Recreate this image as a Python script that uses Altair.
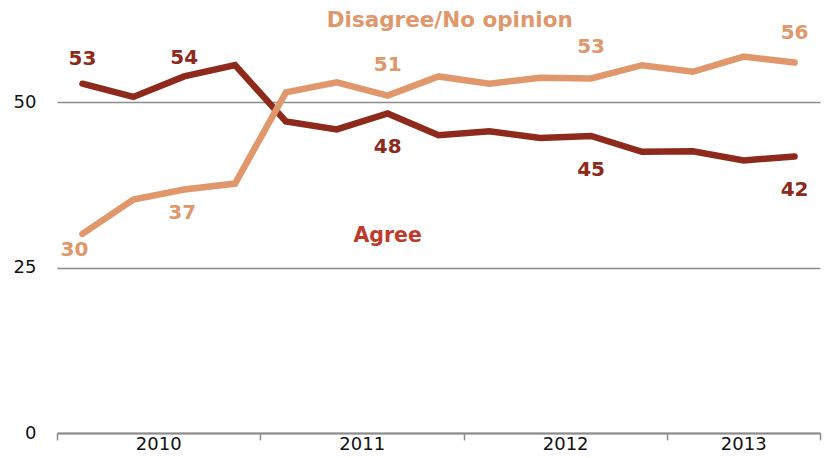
import altair as alt
import pandas as pd

# ---- data ----
periods = list(range(15))
agree = [52.8, 50.8, 53.9, 55.6, 47.1, 45.9, 48.3, 45.0, 45.6, 44.6, 44.9, 42.5, 42.6, 41.2, 41.8]
disagree = [30.1, 35.3, 36.8, 37.7, 51.5, 53.0, 51.0, 53.9, 52.8, 53.7, 53.6, 55.6, 54.6, 56.9, 56.0]

agree_label_idx = [0, 2, 6, 10, 14]
agree_label_txt = ["53", "54", "48", "45", "42"]
disagree_label_idx = [0, 2, 6, 10, 14]
disagree_label_txt = ["30", "37", "51", "53", "56"]

years = ["2010", "2011", "2012", "2013"]
year_start = [-0.5, 3.5, 7.5, 11.5]
year_end = [3.5, 7.5, 11.5, 14.5]

series_names = ["Agree", "Disagree/No opinion"]
series_label_x = [6.0, 7.22]
series_label_y = [29.8, 62.3]

# ---- styling ----
AGREE_LINE = "#8E2A1C"
AGREE_TEXT = "#8E2A1C"
AGREE_NAME = "#BC3B2C"
DIS_LINE = "#E0976B"
DIS_TEXT = "#E0976B"
GRID = "#8C8C8C"
FONT = "DejaVu Sans"
W, H = 763, 430

x_scale = alt.Scale(domain=[-0.5, 14.5], nice=False, zero=False)
y_scale = alt.Scale(domain=[0, 65], nice=False)

x_axis = alt.Axis(values=year_start + [year_end[-1]], labels=False, title=None,
                  grid=False, domain=True, domainColor=GRID, domainWidth=2,
                  ticks=True, tickColor=GRID, tickWidth=1.5, tickSize=7)
y_axis = alt.Axis(values=[0, 25, 50], title=None, domain=False, ticks=False,
                  grid=True, gridColor=GRID, gridWidth=1.5, labels=True,
                  labelFont=FONT, labelFontSize=18, labelColor="#111111",
                  labelPadding=21)

lines_df = pd.concat([
    pd.DataFrame({"period": periods, "value": agree, "series": "Agree"}),
    pd.DataFrame({"period": periods, "value": disagree, "series": "Disagree/No opinion"}),
])

lines = alt.Chart(lines_df).mark_line(strokeWidth=6.5, strokeCap="round").encode(
    x=alt.X("period:Q", scale=x_scale, axis=x_axis),
    y=alt.Y("value:Q", scale=y_scale, axis=y_axis),
    color=alt.Color("series:N", scale=alt.Scale(domain=series_names, range=[AGREE_LINE, DIS_LINE]),
                    legend=None),
    order=alt.Order("period:Q"),
)

# point labels
lab_agree = pd.DataFrame({"period": agree_label_idx,
                          "value": [agree[i] for i in agree_label_idx],
                          "txt": agree_label_txt})
lab_dis = pd.DataFrame({"period": disagree_label_idx,
                        "value": [disagree[i] for i in disagree_label_idx],
                        "txt": disagree_label_txt})

offsets_agree = {0: (0, -25), 2: (0, -18), 6: (0, 34), 10: (0, 34), 14: (0, 34)}
offsets_dis = {0: (-8, 16), 2: (-2, 23), 6: (0, -31), 10: (0, -31), 14: (0, -30)}

label_layers = []
for df, offs, col in [(lab_agree, offsets_agree, AGREE_TEXT), (lab_dis, offsets_dis, DIS_TEXT)]:
    for idx, (dx, dy) in offs.items():
        label_layers.append(
            alt.Chart(df).transform_filter(alt.datum.period == idx).mark_text(
                font=FONT, fontSize=20, fontWeight="bold", color=col,
                dx=dx, dy=dy, baseline="middle", align="center"
            ).encode(x=alt.X("period:Q", scale=x_scale),
                     y=alt.Y("value:Q", scale=y_scale),
                     text="txt:N")
        )

names_df = pd.DataFrame({"name": series_names, "x": series_label_x, "y": series_label_y,
                         "size": [20.5, 21.5]})
names = alt.Chart(names_df).mark_text(
    font=FONT, fontWeight="bold", baseline="middle", align="center"
).encode(
    x=alt.X("x:Q", scale=x_scale), y=alt.Y("y:Q", scale=y_scale),
    text="name:N",
    size=alt.Size("size:Q", scale=None, legend=None),
    color=alt.Color("name:N", scale=alt.Scale(domain=series_names, range=[AGREE_NAME, DIS_TEXT]),
                    legend=None),
)

years_df = pd.DataFrame({"year": years, "start": year_start, "end": year_end})
year_labels = alt.Chart(years_df).transform_calculate(
    mid="(datum.start + datum.end) / 2"
).mark_text(font=FONT, fontSize=18, color="#111111", baseline="middle", align="center").encode(
    x=alt.X("mid:Q", scale=x_scale), y=alt.value(H + 12), text="year:N"
)

chart = alt.layer(lines, *label_layers, names, year_labels).resolve_scale(color="independent").properties(
    width=W, height=H,
    background="white",
    autosize=alt.AutoSizeParams(type="none"),
    padding={"left": 57, "top": 3, "right": 4, "bottom": 25},
).configure_view(strokeWidth=0, stroke="transparent").configure_axis(
    domain=False, ticks=False, labels=False, grid=False, title=None
)

chart.save("out.html", embed_options={"renderer": "svg", "actions": False})
